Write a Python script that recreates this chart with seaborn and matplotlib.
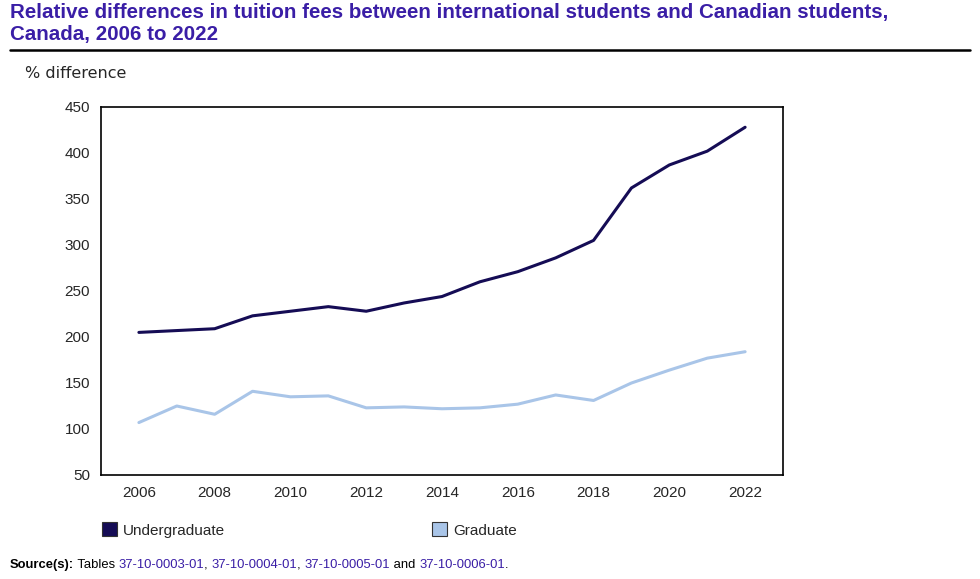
import matplotlib
matplotlib.use("Agg")
import matplotlib.pyplot as plt
import seaborn as sns
import pandas as pd

years = list(range(2006, 2023))
undergraduate = [205, 207, 209, 223, 228, 233, 228, 237, 244, 260, 271, 286, 305, 362, 387, 402, 428]
graduate = [107, 125, 116, 141, 135, 136, 123, 124, 122, 123, 127, 137, 131, 150, 164, 177, 184]
series_names = ["Undergraduate", "Graduate"]
x_ticks = list(range(2006, 2023, 2))
y_ticks = list(range(50, 451, 50))

df = pd.DataFrame({
    "year": years * 2,
    "value": undergraduate + graduate,
    "level": [series_names[0]] * len(years) + [series_names[1]] * len(years),
})

sns.set_style("white")
plt.rcParams["font.family"] = ["Liberation Sans", "DejaVu Sans"]

fig = plt.figure(figsize=(9.8, 5.79), dpi=100)
ax = fig.add_axes([101 / 980, 1 - 475 / 579, (783 - 101) / 980, (475 - 107) / 579])

palette = {"Undergraduate": "#150c55", "Graduate": "#a9c5e8"}
sns.lineplot(data=df, x="year", y="value", hue="level", palette=palette,
             linewidth=2.2, ax=ax, legend=False)

ax.set_xlim(2005, 2023.0)
ax.set_ylim(50, 450)
ax.set_xticks(x_ticks)
ax.set_yticks(y_ticks)
ax.set_xticks(years, minor=True)
ax.tick_params(axis="both", which="both", direction="in", length=6, width=1,
               labelsize=11, color="black", pad=8)
ax.tick_params(axis="y", length=4)
ax.tick_params(axis="x", which="minor", length=6)
ax.set_xlabel("")
ax.set_ylabel("")
for s in ax.spines.values():
    s.set_color("black")
    s.set_linewidth(1.2)

# title and rule
fig.text(10 / 980, 1 - 3 / 579, "Relative differences in tuition fees between international students and Canadian students,\nCanada, 2006 to 2022",
         ha="left", va="top", fontsize=14.8, fontweight="bold", color="#3a1ea6", linespacing=1.2)
fig.add_artist(plt.Line2D([10 / 980, 970 / 980], [1 - 50 / 579, 1 - 50 / 579], color="black", lw=1.8))
fig.text(25 / 980, 1 - 73 / 579, "% difference", ha="left", va="center", fontsize=11.5,
         family=["DejaVu Sans"])

# legend
handles = [plt.Rectangle((0, 0), 1, 1, facecolor=palette[n], edgecolor="#333333", lw=0.8) for n in series_names]
fig.legend(handles, series_names, loc="center left", bbox_to_anchor=(88 / 980, 1 - 530 / 579),
           ncol=2, frameon=False, fontsize=11, handlelength=1.0, handleheight=1.0,
           handletextpad=0.4, columnspacing=13.5)

# source
y_src = 1 - 565 / 579
parts = [("Source(s):", "black", "bold"), (" Tables ", "black", "normal"),
         ("37-10-0003-01", "#3a1ea6", "normal"), (", ", "black", "normal"),
         ("37-10-0004-01", "#3a1ea6", "normal"), (", ", "black", "normal"),
         ("37-10-0005-01", "#3a1ea6", "normal"), (" and ", "black", "normal"),
         ("37-10-0006-01", "#3a1ea6", "normal"), (".", "black", "normal")]
fig.canvas.draw()
renderer = fig.canvas.get_renderer()
x_pos = 10 / 980
for txt, col, wt in parts:
    t = fig.text(x_pos, y_src, txt, ha="left", va="center", fontsize=9.4, color=col, fontweight=wt)
    bb = t.get_window_extent(renderer=renderer)
    x_pos += bb.width / fig.bbox.width

fig.savefig("out.png", dpi=100)
